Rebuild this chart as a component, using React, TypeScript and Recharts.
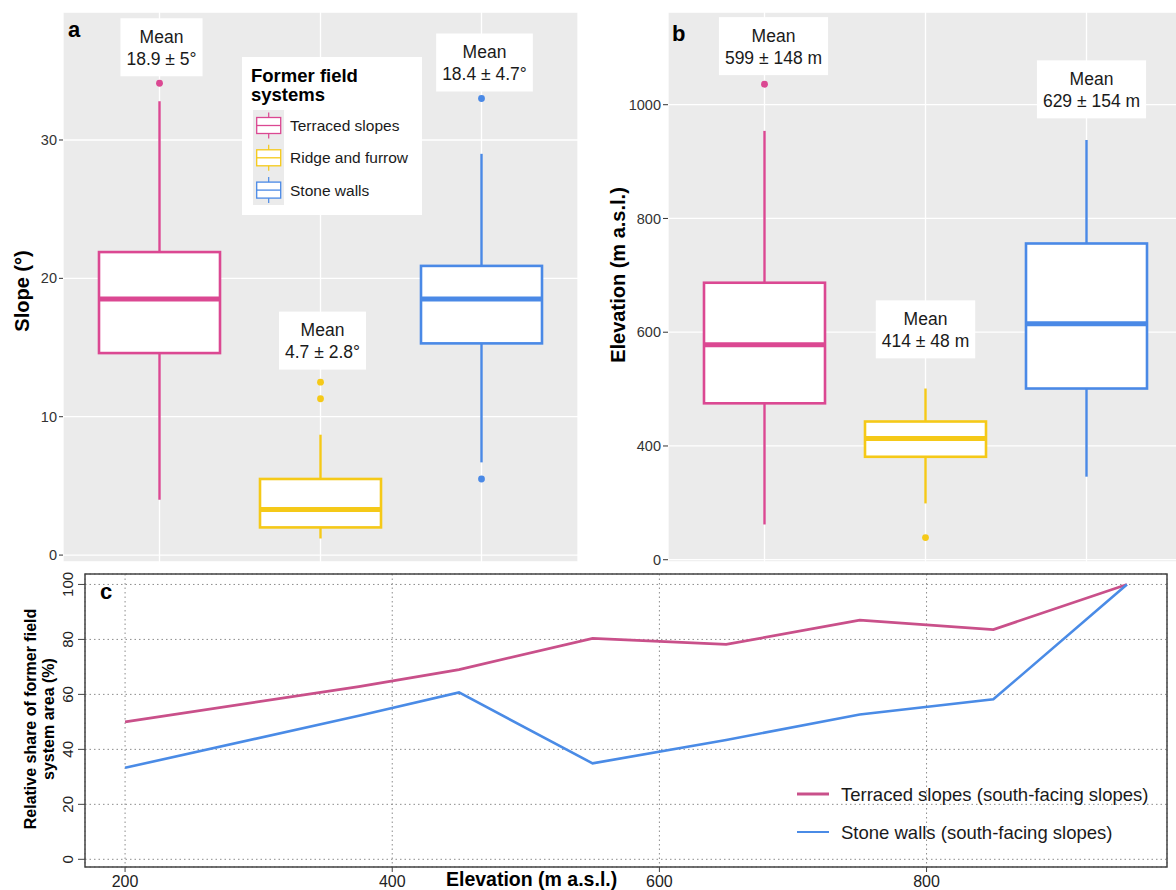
import React from 'react';
import {
  ComposedChart,
  Bar,
  XAxis,
  YAxis,
  CartesianGrid,
  Legend,
  LineChart,
  Line,
  ReferenceArea,
} from 'recharts';

const FONT = '"Liberation Sans", Arial, Helvetica, sans-serif';

// former field systems
const categories = ['Terraced slopes', 'Ridge and furrow', 'Stone walls'];
const boxColors = ['#db4892', '#f5c918', '#4a89e6'];

// panel a - slope (°)
const slopeLow = [4.0, 1.2, 6.7];
const slopeQ1 = [14.6, 2.0, 15.3];
const slopeMedian = [18.5, 3.3, 18.5];
const slopeQ3 = [21.9, 5.5, 20.9];
const slopeHigh = [32.8, 8.7, 29.0];
const slopeOutliers = [[34.1], [12.5, 11.3], [33.0, 5.5]];
const slopeMeans = ['18.9 ± 5°', '4.7 ± 2.8°', '18.4 ± 4.7°'];
const slopeTicks = [0, 10, 20, 30];
const slopeMinorTicks = [5, 15, 25, 35];

// panel b - elevation (m a.s.l.)
const elevLow = [262, 299, 346];
const elevQ1 = [475, 381, 501];
const elevMedian = [578, 413, 615];
const elevQ3 = [687, 443, 756];
const elevHigh = [954, 501, 938];
const elevOutliers = [[1036], [239], []];
const elevMeans = ['599 ± 148 m', '414 ± 48 m', '629 ± 154 m'];
const elevTicks = [200, 400, 600, 800, 1000];
const elevTickLabels = ['0', '400', '600', '800', '1000'];
const elevMinorTicks = [300, 500, 700, 900];

// panel c - relative share by elevation
const elevationBins = [200, 375, 450, 550, 650, 750, 850, 950];
const terracedShare = [50.0, 62.8, 69.0, 80.4, 78.2, 87.0, 83.6, 100];
const stoneShare = [33.3, 52.2, 60.7, 34.9, 43.4, 52.7, 58.2, 100];
const shareTicksX = [200, 400, 600, 800];
const shareTicksY = [0, 20, 40, 60, 80, 100];
const shareNames = ['Terraced slopes (south-facing slopes)', 'Stone walls (south-facing slopes)'];
const shareColors = ['#c9508a', '#4a8be6'];

// where the "Mean" boxes sit (value units + px shift)
const slopeLabelAt = [36.7, 15.5, 35.6];
const slopeLabelDx = [2, 2, 3];
const elevLabelAt = [1103, 605, 1027];
const elevLabelDx = [9, 0, 5];

const makeRows = (
  low: number[], q1: number[], med: number[], q3: number[], high: number[],
  outliers: number[][], means: string[],
) =>
  categories.map((cat, i) => ({
    cat,
    range: [low[i], high[i]],
    q1: q1[i],
    median: med[i],
    q3: q3[i],
    outliers: outliers[i],
    mean: means[i],
  }));

const slopeRows = makeRows(slopeLow, slopeQ1, slopeMedian, slopeQ3, slopeHigh, slopeOutliers, slopeMeans);
const elevRows = makeRows(elevLow, elevQ1, elevMedian, elevQ3, elevHigh, elevOutliers, elevMeans);
const shareRows = elevationBins.map((elev, i) => ({
  elev,
  terraced: terracedShare[i],
  stone: stoneShare[i],
}));

let ctx: CanvasRenderingContext2D | null = null;
function textWidth(s: string, font: string) {
  if (!ctx) ctx = document.createElement('canvas').getContext('2d');
  if (!ctx) return s.length * 9;
  ctx.font = font;
  return ctx.measureText(s).width;
}

// box + whiskers + outliers + mean label, all placed from the bar's own scale
function boxShape(labelAt: number[], labelDx: number[]) {
  return (props: any) => {
    const { x, y, width, height, payload, index } = props;
    const top = Math.min(y, y + height);
    const bot = Math.max(y, y + height);
    const [lo, hi] = payload.range;
    const py = (v: number) => top + ((hi - v) / (hi - lo)) * (bot - top);
    const cx = x + width / 2;
    const c = boxColors[index];
    const lw = Math.max(textWidth(payload.mean, `17.5px ${FONT}`), textWidth('Mean', `17.5px ${FONT}`)) + 12;
    const ly = py(labelAt[index]);
    const lx = cx + labelDx[index];
    return (
      <g>
        <line x1={cx} x2={cx} y1={py(hi)} y2={py(payload.q3)} stroke={c} strokeWidth={2.4} />
        <line x1={cx} x2={cx} y1={py(payload.q1)} y2={py(lo)} stroke={c} strokeWidth={2.4} />
        <rect x={x} y={py(payload.q3)} width={width} height={py(payload.q1) - py(payload.q3)} fill="#fff" stroke={c} strokeWidth={2.6} />
        <line x1={x - 1} x2={x + width + 1} y1={py(payload.median)} y2={py(payload.median)} stroke={c} strokeWidth={5} />
        {payload.outliers.map((o: number, i: number) => (
          <circle key={i} cx={cx} cy={py(o)} r={3.4} fill={c} />
        ))}
        <rect x={lx - lw / 2} y={ly - 29} width={lw} height={58} fill="#fff" />
        <text x={lx} y={ly - 10.5} textAnchor="middle" dominantBaseline="central" fontSize={17.5} fill="#1a1a1a">Mean</text>
        <text x={lx} y={ly + 11.5} textAnchor="middle" dominantBaseline="central" fontSize={17.5} fill="#1a1a1a">{payload.mean}</text>
      </g>
    );
  };
}

const vTitle = (x: number, y: number, text: string, size: number) => () => (
  <text x={x} y={y} transform={`rotate(-90 ${x} ${y})`} textAnchor="middle" dominantBaseline="central"
    fontSize={size} fontWeight="bold" fill="#000">{text}</text>
);

const fieldLegend = () => (
  <svg width={180} height={158} style={{ display: 'block' }}>
    <rect x={0} y={0} width={180} height={158} fill="#fff" />
    <text x={9} y={25} fontSize={18.5} fontWeight="bold" fill="#000">Former field</text>
    <text x={9} y={44} fontSize={18.5} fontWeight="bold" fill="#000">systems</text>
    <rect x={11} y={53} width={31} height={95} fill="#ebebeb" />
    {categories.map((cat, i) => {
      const cy = 68.5 + i * 32.3;
      const c = boxColors[i];
      return (
        <g key={cat}>
          <line x1={26.7} x2={26.7} y1={cy - 13} y2={cy + 13} stroke={c} strokeWidth={1.2} />
          <rect x={14.7} y={cy - 8} width={24} height={16} fill="#fff" stroke={c} strokeWidth={1.3} />
          <line x1={14.7} x2={38.7} y1={cy} y2={cy} stroke={c} strokeWidth={1.3} />
          <text x={48} y={cy} dominantBaseline="central" fontSize={15.5} fill="#1a1a1a">{cat}</text>
        </g>
      );
    })}
  </svg>
);

function RotatedTick(props: any) {
  const { x, y, payload } = props;
  const bx = x - 3;
  return (
    <text x={bx} y={y} transform={`rotate(-90 ${bx} ${y})`} textAnchor="middle" fontSize={15} fill="#222">
      {payload.value}
    </text>
  );
}

const shareLegend = () => (
  <svg width={380} height={70} style={{ display: 'block' }}>
    {shareNames.map((name, i) => (
      <g key={name}>
        <line x1={7} x2={39} y1={14 + i * 38} y2={14 + i * 38} stroke={shareColors[i]} strokeWidth={i === 0 ? 3 : 2} />
        <text x={51} y={14 + i * 38} dominantBaseline="central" fontSize={18.5} fill="#1a1a1a">{name}</text>
      </g>
    ))}
  </svg>
);

const letter = (ch: string, left: number, top: number) => (
  <div style={{ position: 'absolute', left, top, fontSize: 22, lineHeight: '22px', fontWeight: 'bold', fontFamily: FONT }}>{ch}</div>
);

export default function App() {
  return (
    <div style={{ position: 'absolute', left: 0, top: 0, width: 1176, height: 890, overflow: 'hidden', background: '#fff', fontFamily: FONT }}>
      <div style={{ position: 'absolute', left: 0, top: 0 }}>
        <ComposedChart width={590} height={572} data={slopeRows} margin={{ top: 12, right: 12, bottom: 10, left: 13 }}>
          <CartesianGrid fill="#ebebeb" stroke="#ffffff" strokeWidth={1.3} />
          <CartesianGrid yAxisId="minor" vertical={false} stroke="#ffffff" strokeWidth={0.6} fill="none" />
          <XAxis dataKey="cat" hide padding={{ left: 16, right: 16 }} />
          <YAxis domain={[-0.5, 39.25]} ticks={slopeTicks} interval={0} width={50} tickSize={4} axisLine={false}
            tick={{ fontSize: 14.5, fill: '#333' }} tickLine={{ stroke: '#333' }}
            label={vTitle(22, 291, 'Slope (°)', 20)} />
          <YAxis yAxisId="minor" hide domain={[-0.5, 39.25]} ticks={slopeMinorTicks} interval={0} />
          <Bar dataKey="range" barSize={121} isAnimationActive={false} shape={boxShape(slopeLabelAt, slopeLabelDx)} />
          <Legend layout="vertical" align="center" verticalAlign="middle" content={fieldLegend}
            wrapperStyle={{ left: 242, top: 57, width: 180, height: 158 }} />
        </ComposedChart>
      </div>

      <div style={{ position: 'absolute', left: 590, top: 0 }}>
        <ComposedChart width={593} height={572} data={elevRows} margin={{ top: 12, right: 0, bottom: 10, left: 18 }}>
          <CartesianGrid fill="#ebebeb" stroke="#ffffff" strokeWidth={1.3} />
          <CartesianGrid yAxisId="minor" vertical={false} stroke="#ffffff" strokeWidth={0.6} fill="none" />
          <XAxis dataKey="cat" hide padding={{ left: 16, right: 16 }} />
          <YAxis domain={[196, 1163]} ticks={elevTicks} interval={0} width={60} tickSize={5} axisLine={false}
            tickFormatter={(v: number) => elevTickLabels[elevTicks.indexOf(v)]}
            tick={{ fontSize: 14.5, fill: '#333' }} tickLine={{ stroke: '#333' }}
            label={vTitle(28, 275, 'Elevation (m a.s.l.)', 20)} />
          <YAxis yAxisId="minor" hide domain={[196, 1163]} ticks={elevMinorTicks} interval={0} />
          <Bar dataKey="range" barSize={121} isAnimationActive={false} shape={boxShape(elevLabelAt, elevLabelDx)} />
        </ComposedChart>
      </div>

      <div style={{ position: 'absolute', left: 0, top: 560 }}>
        <LineChart width={1176} height={330} data={shareRows} margin={{ top: 14, right: 9, bottom: 0, left: 0 }}>
          <CartesianGrid stroke="#8c8c8c" strokeDasharray="1.5 3" />
          <XAxis dataKey="elev" type="number" domain={[170, 980]} ticks={shareTicksX} interval={0} height={23} tickSize={5}
            tickMargin={4} axisLine={false} tickLine={{ stroke: '#444' }} tick={{ fontSize: 16, fill: '#222' }}
            label={() => (
              <text x={446} y={326} fontSize={19.5} fontWeight="bold" fill="#000">Elevation (m a.s.l.)</text>
            )} />
          <YAxis domain={[-2.8, 103.8]} ticks={shareTicksY} interval={0} width={85} tickSize={7} axisLine={false}
            tickLine={{ stroke: '#444' }} tick={<RotatedTick />}
            label={() => (
              <g>
                {vTitle(30.6, 159, 'Relative share of former field', 16)()}
                {vTitle(48, 159, 'system area (%)', 16)()}
              </g>
            )} />
          <ReferenceArea x1={170} x2={980} y1={-2.8} y2={103.8} fill="none" fillOpacity={0} stroke="#444" strokeWidth={1.5} />
          <Line type="linear" dataKey="terraced" name={shareNames[0]} stroke={shareColors[0]} strokeWidth={2.7} dot={false} isAnimationActive={false} />
          <Line type="linear" dataKey="stone" name={shareNames[1]} stroke={shareColors[1]} strokeWidth={2.6} dot={false} isAnimationActive={false} />
          <Legend layout="vertical" align="center" verticalAlign="middle" content={shareLegend}
            wrapperStyle={{ left: 790, top: 220, width: 380, height: 70 }} />
        </LineChart>
      </div>

      {letter('a', 68, 19)}
      {letter('b', 672, 23)}
      {letter('c', 100, 581)}
    </div>
  );
}
